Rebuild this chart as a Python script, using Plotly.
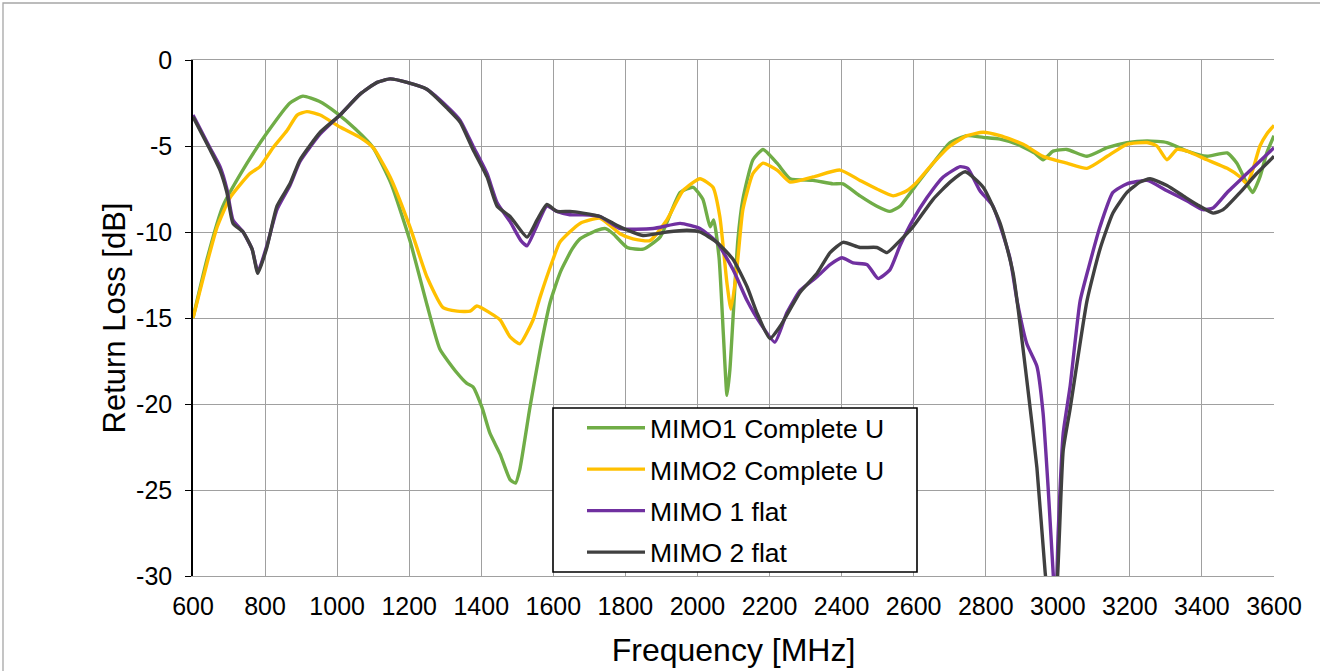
import plotly.graph_objects as go

# ---------------- data ----------------
f_mimo1_u = [600, 640, 683, 750, 805, 869, 905, 950, 1000, 1050, 1100, 1150, 1202, 1249, 1285,
             1333, 1360, 1377, 1402, 1424, 1452, 1480, 1495, 1507, 1535, 1563, 1591, 1620, 1652,
             1674, 1721, 1745, 1766, 1805, 1849, 1896, 1952, 1988, 2015, 2035, 2045, 2060, 2072,
             2082, 2090, 2099, 2112, 2126, 2154, 2182, 2221, 2257, 2321, 2376, 2404, 2451, 2498,
             2534, 2562, 2609, 2654, 2701, 2748, 2793, 2840, 2887, 2935, 2959, 2987, 3025, 3081,
             3137, 3192, 3248, 3303, 3359, 3414, 3470, 3497, 3525, 3541, 3561, 3580, 3600]
rl_mimo1_u = [-15.0, -11.5, -8.5, -6.0, -4.25, -2.5, -2.1, -2.4, -3.1, -4.0, -5.1, -7.2, -10.5, -14.2, -16.8,
              -18.2, -18.8, -19.0, -20.2, -21.7, -22.9, -24.4, -24.6, -23.8, -20.2, -16.9, -14.1, -12.3, -11.0,
              -10.4, -9.9, -9.8, -10.1, -10.9, -11.0, -10.3, -7.7, -7.4, -8.1, -9.7, -9.3, -11.5, -16.0,
              -19.5, -18.0, -14.9, -10.5, -8.1, -5.8, -5.2, -6.0, -6.9, -7.0, -7.2, -7.2, -7.9, -8.5,
              -8.8, -8.5, -7.2, -6.0, -4.8, -4.4, -4.5, -4.6, -4.9, -5.4, -5.8, -5.3, -5.2, -5.6,
              -5.1, -4.8, -4.7, -4.8, -5.3, -5.6, -5.4, -6.0, -7.2, -7.7, -6.8, -5.4, -4.4]

f_mimo2_u = [600, 639, 667, 703, 758, 786, 822, 861, 889, 916, 953, 1008, 1063, 1100, 1147, 1202,
             1249, 1294, 1333, 1369, 1388, 1424, 1452, 1480, 1507, 1544, 1563, 1599, 1618, 1674,
             1730, 1785, 1821, 1868, 1915, 1960, 2007, 2043, 2062, 2082, 2093, 2110, 2126, 2154,
             2182, 2221, 2257, 2321, 2396, 2451, 2498, 2543, 2581, 2609, 2654, 2701, 2748, 2793,
             2840, 2904, 2959, 3025, 3081, 3137, 3192, 3248, 3275, 3303, 3331, 3359, 3414, 3470,
             3506, 3525, 3541, 3561, 3580, 3600]
rl_mimo2_u = [-15.0, -11.8, -9.7, -8.0, -6.6, -6.2, -5.1, -4.1, -3.2, -3.0, -3.2, -3.9, -4.5, -5.1, -6.8, -9.7,
              -12.6, -14.4, -14.6, -14.6, -14.3, -14.7, -15.1, -16.1, -16.5, -15.1, -13.8, -11.6, -10.6, -9.5,
              -9.2, -10.1, -10.4, -10.5, -9.3, -7.6, -6.9, -7.4, -9.1, -13.0, -14.5, -12.0, -8.7, -6.6,
              -6.0, -6.4, -7.1, -6.8, -6.4, -7.0, -7.5, -7.9, -7.6, -7.1, -6.0, -5.0, -4.4, -4.2,
              -4.4, -4.9, -5.6, -6.0, -6.3, -5.6, -4.9, -4.8, -5.0, -5.8, -5.2, -5.3, -5.8, -6.3,
              -6.8, -7.2, -6.4, -5.0, -4.3, -3.8]

f_mimo1_flat = [600, 647, 675, 694, 711, 739, 764, 780, 805, 833, 869, 897, 953, 1008, 1063, 1111,
                1147, 1194, 1249, 1305, 1341, 1377, 1416, 1444, 1480, 1510, 1527, 1555, 1582, 1610,
                1646, 1682, 1730, 1785, 1877, 1952, 2007, 2054, 2099, 2138, 2174, 2215, 2248, 2285,
                2332, 2368, 2401, 2432, 2471, 2501, 2534, 2562, 2598, 2637, 2682, 2729, 2750, 2784,
                2820, 2867, 2887, 2914, 2942, 2959, 2973, 2989, 2994, 3001, 3015, 3034, 3062, 3089,
                3117, 3153, 3192, 3248, 3303, 3359, 3403, 3431, 3470, 3525, 3600]
rl_mimo1_flat = [-3.2, -5.1, -6.2, -7.5, -9.3, -10.0, -11.0, -12.3, -10.8, -8.7, -7.3, -5.9, -4.3, -3.2, -2.0, -1.3,
                 -1.1, -1.3, -1.7, -2.7, -3.5, -5.0, -6.6, -8.3, -9.4, -10.5, -10.8, -9.6, -8.5, -8.8,
                 -9.0, -9.0, -9.1, -9.8, -9.8, -9.5, -9.8, -10.6, -12.2, -14.0, -15.3, -16.4, -14.7, -13.4,
                 -12.6, -11.9, -11.5, -11.8, -11.9, -12.7, -12.2, -10.8, -9.3, -8.0, -6.8, -6.2, -6.3, -7.6,
                 -8.5, -11.5, -14.0, -16.5, -17.8, -20.5, -24.8, -30.5, -32.0, -27.5, -21.7, -19.0, -14.0, -11.8,
                 -9.7, -7.7, -7.2, -7.0, -7.6, -8.2, -8.7, -8.6, -7.7, -6.6, -5.1]

f_mimo2_flat = [600, 647, 675, 694, 711, 739, 764, 780, 805, 833, 869, 897, 953, 1008, 1063, 1111,
                1147, 1194, 1249, 1305, 1341, 1377, 1416, 1444, 1480, 1527, 1555, 1582, 1610, 1646,
                1682, 1730, 1785, 1849, 1915, 1971, 2007, 2054, 2099, 2138, 2165, 2201, 2229, 2285,
                2332, 2368, 2404, 2451, 2498, 2526, 2562, 2598, 2654, 2701, 2743, 2793, 2840, 2876,
                2914, 2942, 2965, 2982, 2998, 3015, 3034, 3081, 3117, 3153, 3192, 3228, 3256, 3303,
                3348, 3386, 3431, 3459, 3506, 3552, 3600]
rl_mimo2_flat = [-3.3, -5.2, -6.4, -7.7, -9.5, -10.0, -11.0, -12.4, -10.9, -8.5, -7.2, -5.8, -4.2, -3.2, -2.0, -1.3,
                 -1.1, -1.3, -1.7, -2.8, -3.6, -5.2, -6.8, -8.5, -9.1, -10.3, -9.3, -8.4, -8.8, -8.8,
                 -8.9, -9.1, -9.7, -10.2, -10.0, -9.9, -10.0, -10.6, -11.6, -13.2, -14.7, -16.2, -15.5, -13.5,
                 -12.4, -11.2, -10.6, -10.9, -10.9, -11.2, -10.5, -9.7, -8.1, -7.1, -6.5, -7.4, -9.5, -12.4,
                 -18.6, -23.7, -29.8, -33.0, -30.5, -22.7, -20.3, -14.0, -11.0, -8.9, -7.7, -7.1, -6.9, -7.3,
                 -7.9, -8.4, -8.9, -8.7, -7.7, -6.6, -5.6]

series_names = ["MIMO1 Complete U", "MIMO2 Complete U", "MIMO 1 flat", "MIMO 2 flat"]
series_colors = ["#70AD47", "#FFC000", "#7030A0", "#404040"]
x_ticks = list(range(600, 3601, 200))
y_ticks = [0, -5, -10, -15, -20, -25, -30]

# ---------------- figure ----------------
FONT = "Liberation Sans, Arial, sans-serif"
W, H = 1320, 671
ML, MR, MT, MB = 193, 46, 60, 95
pw = W - ML - MR
ph = H - MT - MB


def px_x(px):
    return (px - ML) / pw


def px_y(py):
    return (H - MB - py) / ph


fig = go.Figure()
for i, (fx, fy) in enumerate([(f_mimo1_u, rl_mimo1_u), (f_mimo2_u, rl_mimo2_u),
                              (f_mimo1_flat, rl_mimo1_flat), (f_mimo2_flat, rl_mimo2_flat)]):
    fig.add_trace(go.Scatter(
        x=fx, y=fy, mode="lines", name=series_names[i], legendgroup=str(i),
        line=dict(color=series_colors[i], width=3.4, shape="spline", smoothing=0.5),
    ))

fig.update_layout(
    width=W, height=H,
    margin=dict(l=ML, r=MR, t=MT, b=MB, pad=0, autoexpand=False),
    paper_bgcolor="white", plot_bgcolor="white",
    font=dict(family=FONT, color="black"),
    showlegend=True,
    legend=dict(
        x=px_x(582), y=px_y(404), xanchor="left", yanchor="top",
        bgcolor="rgba(0,0,0,0)", borderwidth=0,
        font=dict(size=26.5, family=FONT, color="black"),
        tracegroupgap=4, itemwidth=58,
        traceorder="grouped",
    ),
    xaxis=dict(
        range=[600, 3600], tickvals=x_ticks, ticktext=[str(v) for v in x_ticks],
        showgrid=True, gridcolor="#A0A0A0", gridwidth=1.3,
        showline=True, linecolor="#A0A0A0", linewidth=1.3, mirror=True,
        ticks="", tickfont=dict(size=25, family=FONT, color="black"),
        ticklabelstandoff=8, automargin=False,
        zeroline=False,
        title=dict(text="Frequency [MHz]", font=dict(size=32, family=FONT, color="black"), standoff=19),
    ),
    yaxis=dict(
        range=[-30, 0], tickvals=y_ticks, ticktext=[str(v) for v in y_ticks],
        showgrid=True, gridcolor="#A0A0A0", gridwidth=1.3,
        showline=True, linecolor="black", linewidth=1.5,
        ticks="outside", ticklen=6, tickwidth=1.3, tickcolor="black",
        tickfont=dict(size=25, family=FONT, color="black"),
        ticklabelstandoff=8, automargin=False,
        zeroline=False,
        title=dict(text="Return Loss [dB]", font=dict(size=31, family=FONT, color="black"), standoff=1),
    ),
    shapes=[
        dict(type="rect", xref="paper", yref="paper",
             x0=px_x(3), x1=px_x(W + 20), y0=px_y(H + 20), y1=px_y(3),
             line=dict(color="#A6A6A6", width=1.3), fillcolor="rgba(0,0,0,0)", layer="below"),
        dict(type="rect", xref="paper", yref="paper",
             x0=px_x(553), x1=px_x(917), y0=px_y(572), y1=px_y(408),
             line=dict(color="black", width=1.6), fillcolor="white", layer="above"),
    ],
)

fig.write_html("out.html")
